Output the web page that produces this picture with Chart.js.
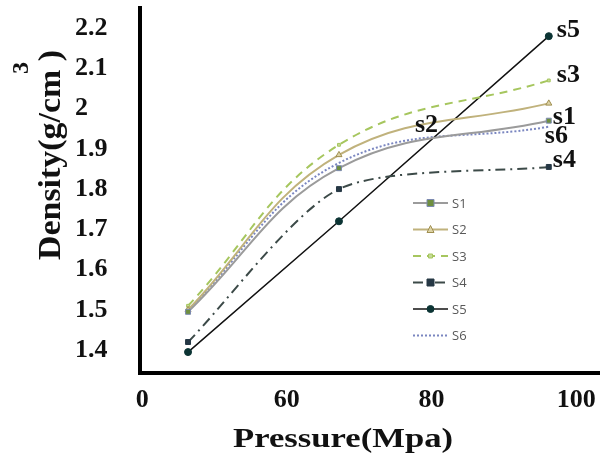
<!DOCTYPE html>
<html>
<head>
<meta charset="utf-8">
<script src="https://cdn.jsdelivr.net/npm/chart.js@4/dist/chart.umd.min.js"></script>
<style>
    html, body { margin: 0; padding: 0; background: #fff; }
    #wrap { width: 604px; height: 461px; position: relative; }
</style>
</head>
<body>
<div id="wrap"><canvas id="densityChart"></canvas></div>
<script>
// x axis in the original is evenly spaced labels (0, 60, 80, 100), points sit between them
const xTickLabels = ['0', '60', '80', '100'];
const xTickPos = [0, 1, 2, 3];
const pointPos = [0.317, 1.36, 2.81];

const yTicks = [1.4, 1.5, 1.6, 1.7, 1.8, 1.9, 2, 2.1, 2.2];

const seriesNames = ['S1', 'S2', 'S3', 'S4', 'S5', 'S6'];
const seriesTags = ['s1', 's2', 's3', 's4', 's5', 's6'];

const s1 = [1.495, 1.852, 1.97];
const s2 = [1.50, 1.885, 2.013];
const s3 = [1.51, 1.91, 2.07];
const s4 = [1.42, 1.80, 1.855];
const s5 = [1.395, 1.72, 2.18];
const s6 = [1.50, 1.865, 1.955];

const serif = '"Liberation Serif", "Times New Roman", serif';

function pts(vals) {
    return vals.map((v, i) => ({ x: pointPos[i], y: v }));
}

const estilos = [
    { color: '#9b9b9b', dash: [], width: 2, point: 'rect', r: 3.5, bg: '#6f8f3f', bd: '#7c8ab0', tension: 0.4 },
    { color: '#c0b27c', dash: [], width: 2, point: 'triangle', r: 3.5, bg: '#ddd3a6', bd: '#9f8e4f', tension: 0.4 },
    { color: '#a6c65e', dash: [8, 6], width: 2, point: 'rect', r: 2, bg: '#c6da98', bd: '#a6c65e', tension: 0.4 },
    { color: '#3c4a48', dash: [10, 5, 2, 5], width: 2, point: 'rect', r: 3.5, bg: '#263845', bd: '#263845', tension: 0.25 },
    { color: '#111111', dash: [], width: 1.5, point: 'circle', r: 3.5, bg: '#0c3434', bd: '#0c3434', tension: 0 },
    { color: '#7a86c0', dash: [2, 2], width: 2, point: 'circle', r: 0, bg: '#7a86c0', bd: '#7a86c0', tension: 0.4 }
];

const valores = [s1, s2, s3, s4, s5, s6];

const datasets = valores.map((vals, i) => ({
    label: seriesNames[i],
    data: pts(vals),
    borderColor: estilos[i].color,
    borderWidth: estilos[i].width,
    borderDash: estilos[i].dash,
    tension: estilos[i].tension,
    pointStyle: estilos[i].point,
    pointRadius: estilos[i].r,
    pointBackgroundColor: estilos[i].bg,
    pointBorderColor: estilos[i].bd,
    pointBorderWidth: 1,
    fill: false
}));

// end tags next to last points: [dx, dy] from the point
const tagOffsets = [[4, -3], [0, 0], [8, -5], [4, -7], [8, -6], [-4, 10]];

function semPadding(scale) {
    scale.paddingTop = 0;
    scale.paddingBottom = 0;
    scale.paddingLeft = 0;
    scale.paddingRight = 0;
}

const extras = {
    id: 'extras',
    afterDraw(chart) {
        const ctx = chart.ctx;
        const xs = chart.scales.x;
        const ys = chart.scales.y;
        ctx.save();

        // series tags
        ctx.fillStyle = '#111';
        ctx.font = 'bold 26px ' + serif;
        ctx.textBaseline = 'middle';
        ctx.textAlign = 'left';
        valores.forEach((vals, i) => {
            if (i === 1) {
                // s2 sits in the middle of its curve
                ctx.fillText(seriesTags[i], 415, 125);
                return;
            }
            const px = xs.getPixelForValue(pointPos[2]);
            const py = ys.getPixelForValue(vals[2]);
            ctx.fillText(seriesTags[i], px + tagOffsets[i][0], py + tagOffsets[i][1]);
        });

        // legend inside plot
        const lx = 413, ly = 203, step = 26.5;
        ctx.font = '13px "Open Sans", sans-serif';
        datasets.forEach((d, i) => {
            const y = ly + i * step;
            ctx.save();
            ctx.strokeStyle = d.borderColor;
            ctx.lineWidth = d.borderWidth;
            ctx.setLineDash(d.borderDash);
            ctx.beginPath();
            ctx.moveTo(lx, y);
            ctx.lineTo(lx + 35, y);
            ctx.stroke();
            ctx.restore();
            if (d.pointRadius > 0) {
                ctx.fillStyle = d.pointBackgroundColor;
                ctx.strokeStyle = d.pointBorderColor;
                ctx.lineWidth = 1;
                ctx.beginPath();
                if (d.pointStyle === 'circle') {
                    ctx.arc(lx + 17.5, y, d.pointRadius, 0, Math.PI * 2);
                } else if (d.pointStyle === 'triangle') {
                    ctx.moveTo(lx + 17.5, y - 4);
                    ctx.lineTo(lx + 21, y + 3);
                    ctx.lineTo(lx + 14, y + 3);
                    ctx.closePath();
                } else {
                    ctx.rect(lx + 17.5 - d.pointRadius, y - d.pointRadius, d.pointRadius * 2, d.pointRadius * 2);
                }
                ctx.fill();
                ctx.stroke();
            }
            ctx.fillStyle = '#595959';
            ctx.fillText(d.label, lx + 39, y + 1);
        });

        // axis titles (the original text is a bit stretched)
        ctx.fillStyle = '#111';
        ctx.font = 'bold 28px ' + serif;
        ctx.textAlign = 'center';
        ctx.textBaseline = 'middle';
        let w = ctx.measureText('Pressure(Mpa)').width;
        ctx.save();
        ctx.translate(343, 440);
        ctx.scale(220 / w, 1);
        ctx.fillText('Pressure(Mpa)', 0, 0);
        ctx.restore();

        w = ctx.measureText('Density(g/cm )').width;
        ctx.save();
        ctx.translate(52, 155);
        ctx.rotate(-Math.PI / 2);
        ctx.scale(210 / w, 1.1);
        ctx.fillText('Density(g/cm )', 0, 0);
        ctx.restore();

        ctx.font = 'bold 24px ' + serif;
        ctx.save();
        ctx.translate(22, 68);
        ctx.rotate(-Math.PI / 2);
        ctx.fillText('3', 0, 0);
        ctx.restore();

        ctx.restore();
    }
};

const ctx = document.getElementById('densityChart').getContext('2d');
new Chart(ctx, {
    type: 'line',
    data: { datasets: datasets },
    options: {
        responsive: true,
        maintainAspectRatio: false,
        animation: false,
        layout: { padding: { left: 75, top: 8, right: 0, bottom: 0 } },
        plugins: {
            legend: { display: false },
            tooltip: { enabled: false }
        },
        scales: {
            x: {
                type: 'linear',
                min: -0.015,
                max: 3.157,
                afterBuildTicks: (scale) => {
                    scale.ticks = xTickPos.map(v => ({ value: v }));
                },
                afterFit: (scale) => { scale.height = 88; semPadding(scale); },
                grid: { display: false, drawTicks: false },
                border: { display: true, color: '#000', width: 4 },
                ticks: {
                    padding: 12,
                    color: '#111',
                    font: { family: serif, size: 26, weight: 'bold' },
                    callback: (v, i) => xTickLabels[i]
                }
            },
            y: {
                min: 1.343,
                max: 2.25,
                afterBuildTicks: (scale) => {
                    scale.ticks = yTicks.map(v => ({ value: v }));
                },
                afterFit: (scale) => { scale.width = 65; semPadding(scale); },
                grid: { display: false, drawTicks: false },
                border: { display: true, color: '#000', width: 4 },
                ticks: {
                    crossAlign: 'far',
                    color: '#111',
                    font: { family: serif, size: 26, weight: 'bold' },
                    callback: (v, i) => String(yTicks[i])
                }
            }
        }
    },
    plugins: [extras]
});
</script>
</body>
</html>
